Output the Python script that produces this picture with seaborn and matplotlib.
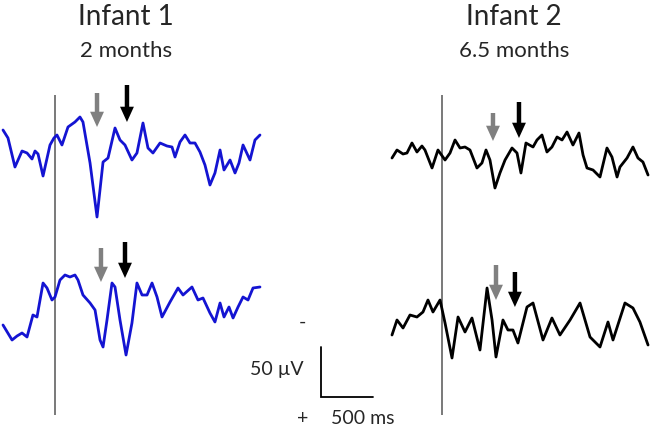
import numpy as np
import matplotlib.pyplot as plt
import seaborn as sns

# time (ms, relative to stimulus onset) and amplitude (uV, positive plotted downward)
inf1_top_t = [-500, -452, -385, -317, -269, -221, -192, -163, -115, -48, -10, 19, 67, 125, 192, 240, 269,
              337, 404, 462, 510, 577, 625, 673, 740, 788, 846, 894, 942, 1010, 1077, 1125, 1154, 1202,
              1250, 1298, 1346, 1394, 1442, 1490, 1538, 1587, 1625, 1683, 1731, 1769, 1808, 1875, 1923, 1971]
inf1_top_v = [-15, -7, 22, 6, 8, 14, 6, 9, 31, 0, -7, -10, 0, -18, -23, -28, -23,
              18, 72, 17, 13, -17, -5, 0, 15, 8, -22, 3, 8, -2, 1, 2, 12, -3,
              -10, -2, -2, 7, 20, 40, 28, 5, 25, 15, 28, 18, 0, 15, -5, -10]

inf1_bot_t = [-500, -413, -365, -317, -269, -212, -173, -115, -77, -29, 0, 48, 96, 144, 192, 221, 269,
              337, 385, 433, 462, 500, 548, 577, 625, 683, 740, 788, 837, 885, 933, 981, 1029, 1106,
              1183, 1231, 1317, 1375, 1423, 1490, 1538, 1587, 1625, 1673, 1712, 1760, 1808, 1856, 1904, 1971]
inf1_bot_v = [25, 40, 36, 33, 37, 15, 17, -17, -12, 0, -3, -20, -25, -23, -25, -20, -5,
              3, 10, 40, 47, 20, -17, -13, 20, 55, 23, -17, -5, -5, -17, -3, 17, 2,
              -12, -5, -13, 0, -2, 13, 22, 3, 17, 7, 18, 7, -3, 0, -12, -13]

inf2_top_t = [-476, -428, -370, -332, -284, -236, -188, -159, -91, -34, 34, 82, 130, 178, 226, 274, 341,
              389, 428, 466, 514, 562, 611, 678, 726, 764, 812, 880, 918, 966, 1014, 1062, 1111, 1159,
              1207, 1264, 1322, 1361, 1399, 1457, 1524, 1591, 1639, 1688, 1716, 1784, 1841, 1889, 1937, 1986]
inf2_top_v = [3, -5, -1, -2, -12, -3, -9, -5, 13, -5, 5, -2, -15, -7, -8, -5, 13,
              8, -5, 5, 33, 18, 5, -7, -2, 18, -12, -8, -15, -20, -3, -8, -18, -15,
              -23, -10, -22, 0, 13, 15, 22, -7, 2, 22, 12, 3, -8, 3, 7, 20]

inf2_bot_t = [-476, -428, -370, -303, -236, -178, -130, -82, -14, 34, 101, 159, 226, 293, 370, 438, 486,
              524, 591, 639, 687, 735, 822, 880, 976, 1062, 1139, 1236, 1332, 1428, 1524, 1601, 1649,
              1764, 1841, 1908, 1986]
inf2_bot_v = [13, -2, 6, -7, -5, -10, -22, -10, -22, 1, 36, -5, 10, -4, 28, -34, -2,
              35, -2, 8, 8, 21, -15, -19, 18, -4, 13, -2, -19, 15, 25, 0, 18,
              -19, -14, 0, 23]

# arrow latencies (ms): gray = first component, black = second
inf1_gray_ms = [404, 442]
inf1_black_ms = [692, 673]
inf2_gray_ms = [495, 524]
inf2_black_ms = [745, 706]

titles = ["Infant 1", "Infant 2"]
ages = ["2 months", "6.5 months"]

sns.set_style("white")
plt.rcParams["font.family"] = ["Lato", "DejaVu Sans"]

W, H = 652, 430
fig = plt.figure(figsize=(W / 100, H / 100), dpi=100)
px_per_ms = 52 / 500


def panel(left_px, right_px, onset_px, top_px, bot_px, base_top_px):
    ax = fig.add_axes([left_px / W, 1 - bot_px / H, (right_px - left_px) / W, (bot_px - top_px) / H])
    ax.set_xlim((left_px - onset_px) / px_per_ms, (right_px - onset_px) / px_per_ms)
    ax.set_ylim(bot_px - base_top_px, top_px - base_top_px)
    ax.axis("off")
    ax.patch.set_alpha(0)
    return ax


def arrow(ax, t, tip, length, color):
    ax.annotate("", xy=(t, tip), xytext=(t, tip - length),
                arrowprops=dict(facecolor=color, edgecolor="none", width=3.2, headwidth=10,
                                headlength=11, shrink=0))


def ftext(x, y, s, size, ha="center"):
    fig.text(x / W, 1 - y / H, s, ha=ha, va="center", fontsize=size)


# Infant 1
ax1 = panel(0, 380, 55, 88, 425, 145)
off1 = 155
ax1.vlines(0, -50, 270, color="#555555", lw=1.1)
sns.lineplot(x=inf1_top_t, y=inf1_top_v, ax=ax1, color="#1414d2", lw=2.0, sort=False, estimator=None)
sns.lineplot(x=inf1_bot_t, y=np.array(inf1_bot_v) + off1, ax=ax1, color="#1414d2", lw=2.0,
             sort=False, estimator=None)
arrow(ax1, inf1_gray_ms[0], -18, 34, "#808080")
arrow(ax1, inf1_black_ms[0], -23, 37, "black")
arrow(ax1, inf1_gray_ms[1], -18 + off1, 34, "#808080")
arrow(ax1, inf1_black_ms[1], -22 + off1, 36, "black")

# scale bar: 500 ms x 50 uV
sx = (321 - 55) / px_per_ms
ax1.plot([sx, sx, sx + 500], [202, 252, 252], color="black", lw=1.3, solid_joinstyle="miter")
ftext(304, 370, "50 µV", 14, ha="right")
ftext(302, 322, "-", 14)
ftext(303, 419, "+", 14)
ftext(331, 419, "500 ms", 14, ha="left")

# Infant 2
ax2 = panel(380, 652, 441.5, 88, 425, 155)
off2 = 167
ax2.vlines(0, -60, 260, color="#555555", lw=1.1)
sns.lineplot(x=inf2_top_t, y=inf2_top_v, ax=ax2, color="black", lw=2.0, sort=False, estimator=None)
sns.lineplot(x=inf2_bot_t, y=np.array(inf2_bot_v) + off2, ax=ax2, color="black", lw=2.0,
             sort=False, estimator=None)
arrow(ax2, inf2_gray_ms[0], -14, 28, "#808080")
arrow(ax2, inf2_black_ms[0], -17, 36, "black")
arrow(ax2, inf2_gray_ms[1], -22 + off2, 35, "#808080")
arrow(ax2, inf2_black_ms[1], -15 + off2, 35, "black")

for x, title, age in zip([126, 514], titles, ages):
    ftext(x, 17, title, 20)
    ftext(x, 51, age, 16)

fig.savefig("out.png", dpi=100)
